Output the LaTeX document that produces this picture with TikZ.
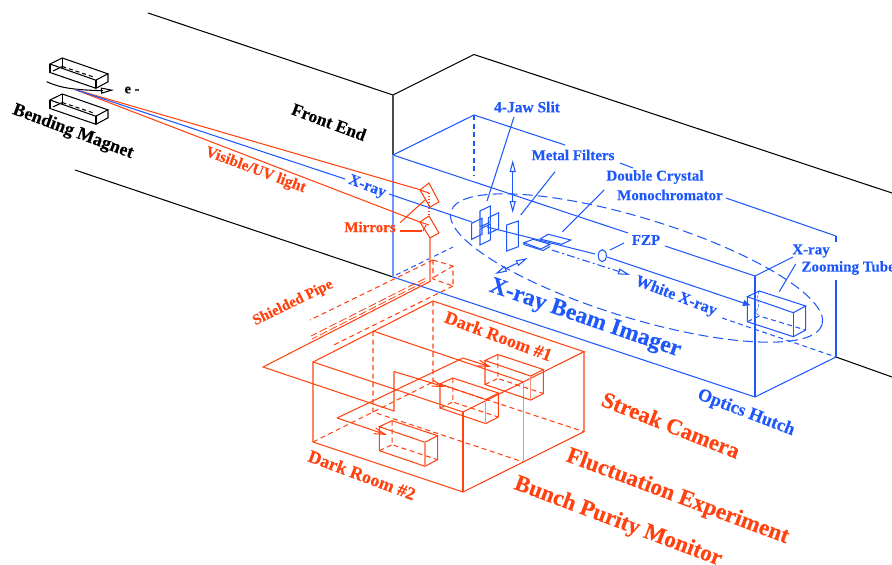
\documentclass[tikz,border=0pt]{standalone}
\usepackage{fontspec}
\setmainfont{Liberation Serif}[BoldFeatures={FakeBold=0.25}]
\usetikzlibrary{calc,positioning,arrows.meta,bending}
\definecolor{XrayBlue}{HTML}{1F58FA}
\definecolor{LightRed}{HTML}{FF4210}
\definecolor{PaleRed}{HTML}{FF8E70}
\definecolor{PaleBlue}{HTML}{6F95FA}
\newcommand{\lblsize}[1]{\bfseries\fontsize{#1}{#1}\selectfont}

\begin{document}
\begin{tikzpicture}[x=1pt,y=-1pt,line width=1.05pt,
    hidden/.style={dash pattern=on 5pt off 3.5pt},
    pipedash/.style={dash pattern=on 8pt off 3pt,line width=0.8pt},
    ringdash/.style={dash pattern=on 10pt off 5pt},
    opentip/.style={{Triangle[open,length=12pt,width=6pt]}-{Triangle[open,length=12pt,width=6pt]}},
    blacklabel/.style={text=black,inner sep=0pt,rotate=-20.5},
    bluelabel/.style={text=XrayBlue,inner sep=1pt},
    redlabel/.style={text=LightRed,inner sep=1pt}
  ]
    \useasboundingbox (0,0) rectangle (892,565);

    \draw (148,13) -- (393,95) -- (474,54.5) -- (892,193);
    \draw[line width=1.3pt,black!70] (393,95) -- (393,155);
    \draw (75,170) -- (393,277);
    \draw (836,357) -- (892,377);

    \foreach \mx/\my in {50/64,50/100}{
      \draw ($(\mx,\my)$) -- ++(12.3,-6) -- ++(45.5,15.8) -- ++(-12,6.4) -- cycle;
      \draw ($(\mx,\my)+(0,8.5)$) -- ++(46,15.8) -- ++(12,-6.5) -- ++(0,-8);
      \draw ($(\mx,\my)$) -- ++(0,8.5);
      \draw ($(\mx,\my)+(46,16)$) -- ++(0,8);
      \draw ($(\mx,\my)+(3,7)$) -- ++(9.3,-4.5);
      \draw ($(\mx,\my)+(12.3,-6)$) -- ++(0,10);
      \draw[dash pattern=on 4pt off 3pt] ($(\mx,\my)+(12.3,2.5)$) -- ++(33,11);
    }
    \coordinate (source) at (75,89.5);
    \draw (46.7,81.7) .. controls (60,88) and (75,90) .. (103,90.7);
    \draw[-{Triangle[open,length=13pt,width=6pt]}] (100,90.7) -- (114,90);
    \node[inner sep=0pt,font=\lblsize{14.5}] (electron) at (132,90) {e -};

    \node[blacklabel,font=\lblsize{18}] (magnetlabel) at (73,132) {Bending Magnet};
    \node[blacklabel,font=\lblsize{17.5}] (frontlabel) at (329,122) {Front End};

    \draw[XrayBlue] (393,155) -- (474,115) -- (565,145);
    \draw[XrayBlue] (620,163) -- (633,168);
    \draw[XrayBlue] (726,198) -- (836,236);
    \draw[XrayBlue] (393,155) -- (628,233);
    \draw[XrayBlue] (665,246) -- (755,276) -- (793,257);
    \draw[XrayBlue,hidden] (474,115) -- (474,176);
    \draw[PaleBlue,line width=1.3pt] (393,155) -- (393,277);
    \draw[XrayBlue] (393,277) -- (755,397) -- (836,357);
    \draw[XrayBlue] (755,276) -- (755,397);
    \draw[XrayBlue] (836,236) -- (836,242);
    \draw[XrayBlue] (836,280) -- (836,357);
    \draw[XrayBlue,hidden] (396,275) -- (453,247);
    \draw[XrayBlue,hidden] (722,318) -- (836,357);

    \draw[XrayBlue,ringdash] (636.5,268) ellipse [x radius=194pt,y radius=50pt,rotate=-17];

    \draw[LightRed] (source) -- (421,190);
    \draw[LightRed] (source) -- (421,222.5);
    \draw[XrayBlue] (source) -- (345,179);
    \draw[XrayBlue] (389,194) -- (472,222);
    \draw[XrayBlue] (487,227) -- (595,254);
    \draw[XrayBlue,-{Latex[length=8pt,width=7pt]}] (607,257) -- (751,305.5);
    \draw[XrayBlue,dash pattern=on 8pt off 3pt on 2pt off 3pt,-{Triangle[open,length=12pt,width=6pt]}] (551.7,250) -- (630,275);
    \draw[XrayBlue] (602.3,255.7) ellipse [x radius=4pt,y radius=6pt];

    \foreach \sx/\sy in {471.7/223.3,480/211,488.3/217.7,480/229}{
      \draw[XrayBlue] (\sx,\sy) -- ++(10.3,-5) -- ++(0,16) -- ++(-10.3,5) -- cycle;
    }
    \draw[XrayBlue] (506.7,225) -- (518.3,221) -- (518.3,246.7) -- (506.7,251) -- cycle;
    \draw[XrayBlue] (524,242.7) -- (533.3,239.3) -- (550,244.3) -- (540.7,249) -- cycle;
    \draw[XrayBlue] (524,242.7) -- (524,244.5) -- (543,250.5) -- (550,246.5);
    \draw[XrayBlue] (540,239) -- (548.3,234.3) -- (570.7,240) -- (561.7,244.3) -- cycle;
    \draw[XrayBlue,opentip] (512.7,160) -- (512.7,213);
    \draw[XrayBlue,opentip] (495,274) -- (527.7,258);

    \draw[XrayBlue] (747.3,296.7) -- (759.3,291) -- (805.7,306) -- (793.3,312.7) -- cycle;
    \draw[XrayBlue] (747.3,296.7) -- (747.3,321.7) -- (793.3,336.7) -- (805.7,330) -- (805.7,306);
    \draw[XrayBlue] (793.3,312.7) -- (793.3,336.7);
    \draw[XrayBlue,hidden] (747.3,321.7) -- (759.3,316) -- (805.7,330);
    \draw[XrayBlue,dash pattern=on 3pt off 1.5pt,line width=0.6pt] (759.3,291) .. controls (755,300) and (761,305) .. (757,310) .. controls (755,314) and (759,315) .. (759.3,316);

    \draw[LightRed] (420,190) -- (429,183) -- (439,202) -- (430,207) -- cycle;
    \draw[LightRed] (420,222) -- (429,216) -- (439,233) -- (430,238) -- cycle;
    \draw[LightRed,dotted] (429,193) -- (429,216);
    \draw[LightRed] (420,190) -- (429,193);
    \draw[LightRed] (420,222) -- (429,225);
    \draw[LightRed] (426,225) -- (423,231);
    \draw[PaleRed,line width=1.5pt] (430,238) -- (430,281);

    \draw[LightRed,hidden] (433,260) -- (453,266) -- (453,286) -- (433,279) -- cycle;
    \draw[LightRed,hidden] (433,260) -- (310,320);
    \draw[LightRed,hidden] (453,266) -- (431,279);
    \draw[LightRed,hidden] (453,286) -- (331.7,346);
    \draw[LightRed,pipedash] (425,278.5) -- (311,336);
    \draw[LightRed,pipedash] (425,281.5) -- (312,339);

    \coordinate (pipeend) at (263,367);
    \draw[LightRed] (431,281) -- (pipeend) -- (394,411) -- (394,371.5);
    \draw[LightRed,-{Straight Barb[length=11pt,width=6pt]}] (394,371.5) -- (445,387);
    \coordinate (splitend) at (337,418);
    \draw[LightRed,-{Straight Barb[length=11pt,width=6pt]}] (splitend) -- (387,435);
    \draw[LightRed] (splitend) -- (463,358);
    \draw[LightRed,-{Straight Barb[length=11pt,width=6pt]}] (463,358) -- (491,367);

    \draw[LightRed] (313,362) -- (433,301) -- (584,351.7) -- (463,412) -- cycle;
    \draw[LightRed] (313,362) -- (313,442) -- (463,492) -- (584,431.7) -- (584,351.7);
    \draw[LightRed] (463,412) -- (463,492);
    \draw[LightRed] (373,331) -- (523.3,382);
    \draw[PaleRed,line width=1.3pt] (523.3,382) -- (523.3,462);
    \draw[LightRed,hidden] (313,442) -- (433,382);
    \draw[LightRed,hidden] (373,331) -- (373,412) -- (523.3,462);
    \draw[LightRed,hidden] (433,301) -- (433,382) -- (584,431.7);

    \foreach \bx/\by in {485/360.5,440/384,379.3/426.7}{
      \draw[LightRed] (\bx,\by) -- ++(12.8,-6) -- ++(45.5,15) -- ++(-12.6,6.6) -- cycle;
      \draw[LightRed] (\bx,\by) -- ++(0,24) -- ++(45.7,15.6) -- ++(12.6,-6.6) -- ++(0,-24);
      \draw[PaleRed] ($(\bx,\by)+(45.7,15.6)$) -- ++(0,24);
      \draw[LightRed,hidden] ($(\bx,\by)+(12.8,-6)$) -- ++(0,24) -- ++(45.5,15);
      \draw[LightRed,hidden] ($(\bx,\by)+(0,24)$) -- ++(12.8,-6);
    }

    \node[bluelabel,rotate=-19,font=\lblsize{23.5}] (beamlabel) at (585,319) {X-ray Beam Imager};
    \node[bluelabel,rotate=-21,font=\lblsize{16}] (whitelabel) at (676,296.5) {White X-ray};
    \node[bluelabel,rotate=-21,font=\lblsize{18}] (hutchlabel) at (746,413) {Optics Hutch};
    \node[bluelabel,rotate=-21,font=\lblsize{15.5}] (xraylabel) at (367,187) {X-ray};
    \node[bluelabel,font=\lblsize{15.5}] (jawlabel) at (527,107) {4-Jaw Slit};
    \node[bluelabel,font=\lblsize{15}] (filterlabel) at (573,155) {Metal Filters};
    \node[bluelabel,font=\lblsize{15}] (cryslabel) at (655,177) {Double Crystal};
    \node[bluelabel,font=\lblsize{15}] (monolabel) at (670,195) {Monochromator};
    \node[bluelabel,font=\lblsize{15}] (fzplabel) at (646,240) {FZP};
    \node[bluelabel,font=\lblsize{15}] (tubelabel) at (811,251) {X-ray};
    \node[bluelabel,anchor=west,font=\lblsize{15}] (zoomlabel) at (800,268) {Zooming Tube};

    \draw[XrayBlue] ([xshift=-13pt,yshift=-3pt]jawlabel.south) -- (487,201);
    \draw[XrayBlue] (555,171.7) -- (520.7,215);
    \draw[XrayBlue] (604,190) -- (562.3,231.7);
    \draw[XrayBlue] (610,250) -- (624,243);
    \draw[XrayBlue] (795.7,264) -- (779.3,291.7);

    \node[redlabel,rotate=-20.5,font=\lblsize{15.5}] (visiblelabel) at (255.5,170.5) {Visible/UV light};
    \node[redlabel,font=\lblsize{15}] (mirrorlabel) at (370,227) {Mirrors};
    \node[redlabel,rotate=26,font=\lblsize{15}] (pipelabel) at (293,303) {Shielded Pipe};
    \node[redlabel,rotate=-20.5,font=\lblsize{18}] (darkonelabel) at (498.5,336) {Dark Room \#1};
    \node[redlabel,rotate=-20.5,font=\lblsize{18}] (darktwolabel) at (362,475) {Dark Room \#2};
    \node[redlabel,rotate=-21.5,font=\lblsize{22.5}] (streaklabel) at (671,425) {Streak Camera};
    \node[redlabel,rotate=-20.5,font=\lblsize{23}] (fluctlabel) at (677.5,497) {Fluctuation Experiment};
    \node[redlabel,rotate=-20.5,font=\lblsize{23}] (bunchlabel) at (618,522) {Bunch Purity Monitor};

    \draw[LightRed] (400,222.7) -- (425,200);
    \draw[LightRed] (400,231) -- (421.7,231);
  \end{tikzpicture}
\end{document}
